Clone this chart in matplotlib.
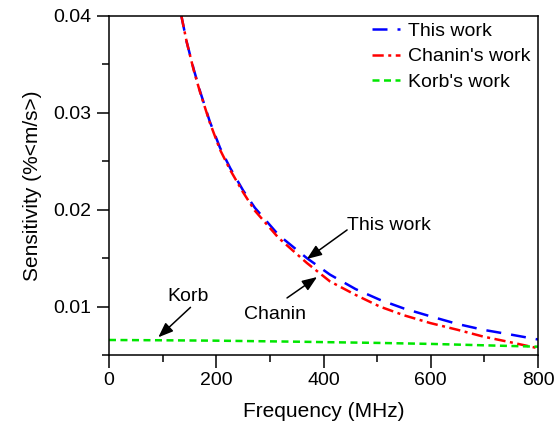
import matplotlib
matplotlib.use("Agg")
import matplotlib.pyplot as plt
from matplotlib.ticker import MultipleLocator

# values
freq_this = [135, 145, 158, 170, 188, 207, 226, 250, 272, 316, 369, 412, 460, 505,
             550, 599, 650, 698, 750, 800]
sens_this = [0.0400, 0.0373, 0.0345, 0.0322, 0.0291, 0.0264, 0.0243, 0.0220, 0.0202,
             0.0174, 0.0150, 0.0133, 0.0118, 0.0107, 0.0098, 0.0090, 0.0082, 0.0076,
             0.0071, 0.0066]

freq_chanin = [135, 145, 158, 170, 188, 207, 226, 250, 272, 316, 369, 412, 460, 505,
               550, 599, 650, 698, 750, 800]
sens_chanin = [0.0400, 0.0373, 0.0344, 0.0321, 0.0290, 0.0262, 0.0241, 0.0218, 0.0199,
               0.0171, 0.0145, 0.0126, 0.0112, 0.0100, 0.0091, 0.0083, 0.0076, 0.0069,
               0.0063, 0.0057]

freq_korb = [0, 100, 200, 356, 412, 500, 604, 700, 800]
sens_korb = [0.00655, 0.00652, 0.00648, 0.00637, 0.00632, 0.00625, 0.00614, 0.00600, 0.00586]

legend_names = ["This work", "Chanin's work", "Korb's work"]

plt.rcParams['font.family'] = ['Liberation Sans', 'DejaVu Sans']

fig = plt.figure(figsize=(5.58, 4.25), dpi=100)
ax = fig.add_axes([0.1953, 0.1647, 0.7689, 0.7977])

ax.plot(freq_this, sens_this, color='blue', lw=1.8, dashes=(6, 4), label=legend_names[0])
ax.plot(freq_chanin, sens_chanin, color='red', lw=1.8, dashes=(4.5, 1.8, 1.2, 1.8), label=legend_names[1])
ax.plot(freq_korb, sens_korb, color='#00e600', lw=1.8, dashes=(2.8, 1.8), label=legend_names[2])

ax.set_xlim(0, 800)
ax.set_ylim(0.005, 0.04)
ax.set_xticks([0, 200, 400, 600, 800])
ax.set_yticks([0.01, 0.02, 0.03, 0.04])
ax.xaxis.set_minor_locator(MultipleLocator(100))
ax.yaxis.set_minor_locator(MultipleLocator(0.005))
ax.tick_params(which='major', direction='out', length=9, width=1.1, labelsize=14, colors='k')
ax.tick_params(which='minor', direction='out', length=5, width=1.1)
for spine in ax.spines.values():
    spine.set_linewidth(1.1)

ax.set_xlabel('Frequency (MHz)', fontsize=15, labelpad=9)
ax.set_ylabel('Sensitivity (%<m/s>)', fontsize=15, labelpad=8)

leg = ax.legend(loc='upper right', frameon=False, fontsize=14, handlelength=1.45,
                handletextpad=0.4, labelspacing=0.4, borderaxespad=0.1,
                bbox_to_anchor=(1.005, 1.01))

arrow = dict(arrowstyle='-|>,head_length=0.9,head_width=0.35', color='k', lw=1.1,
             shrinkA=0, shrinkB=0)

ax.text(522, 0.01832, 'This work', fontsize=14, ha='center', va='center')
ax.annotate('', xy=(369, 0.01491), xytext=(444, 0.01791), arrowprops=arrow)

ax.text(310, 0.00913, 'Chanin', fontsize=14, ha='center', va='center')
ax.annotate('', xy=(388, 0.01305), xytext=(332, 0.01089), arrowprops=arrow)

ax.text(147, 0.01104, 'Korb', fontsize=14, ha='center', va='center')
ax.annotate('', xy=(92, 0.00683), xytext=(152, 0.00992), arrowprops=arrow)

fig.savefig('out.png', dpi=100)
